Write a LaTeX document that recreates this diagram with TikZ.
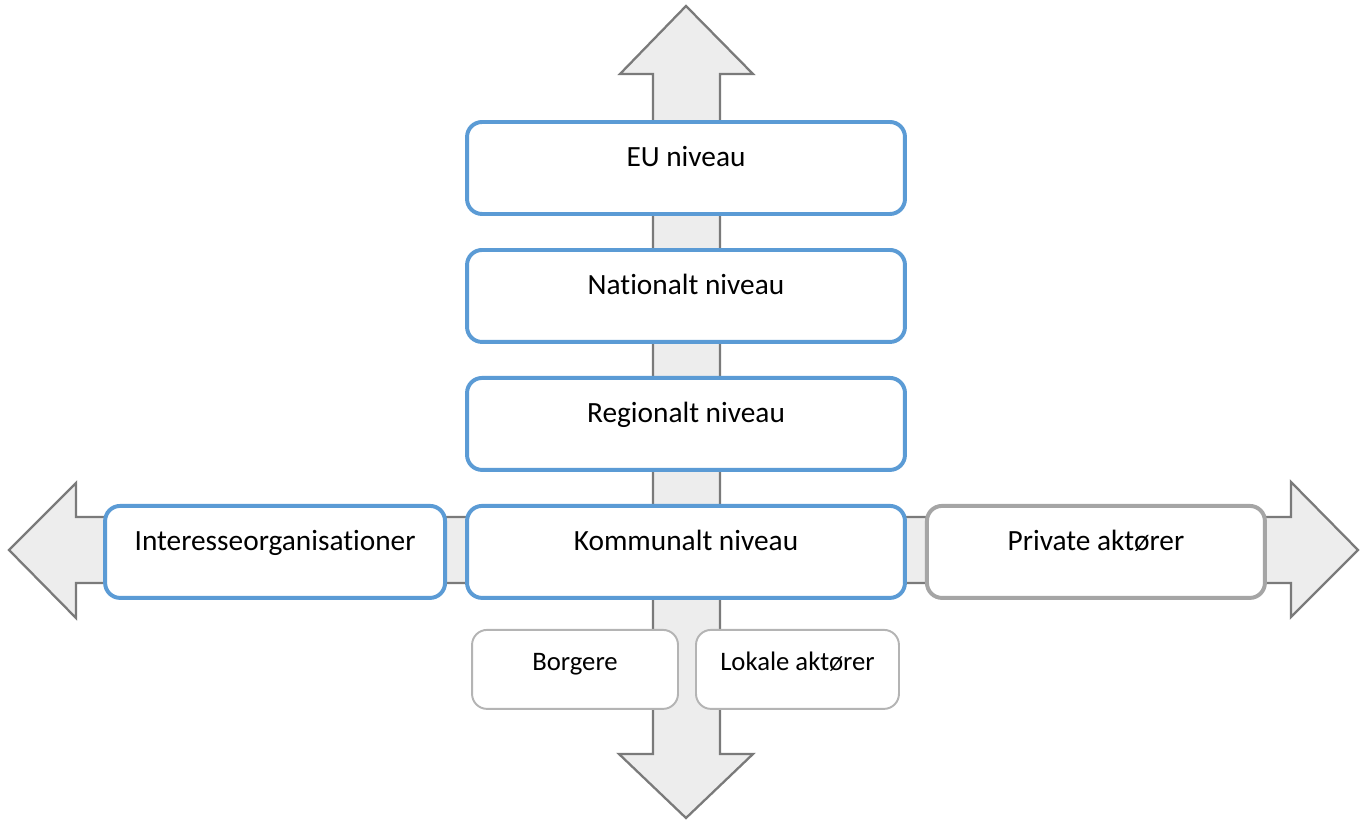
\documentclass[tikz,border=0pt]{standalone}
\usepackage{fontspec}
\setmainfont[Ligatures=NoCommon]{Carlito}
\usetikzlibrary{positioning}

\definecolor{boxblue}{HTML}{5B9BD5}
\definecolor{boxgrey}{HTML}{A5A5A5}
\definecolor{smallgrey}{HTML}{B4B4B4}
\definecolor{arrowfill}{HTML}{EDEDED}
\definecolor{arrowline}{HTML}{7A7A7A}

\begin{document}
\begin{tikzpicture}[
    x=0.02cm, y=-0.02cm,
    bigarrow/.style={draw=arrowline, fill=arrowfill, line width=1.3pt, line join=miter},
    level/.style={draw=boxblue, fill=white, line width=2.25pt, rounded corners=0.3cm, inner xsep=0pt, inner ysep=0pt, outer sep=0pt, minimum width=8.76cm, text height=0.9cm, text depth=0.94cm, font=\fontsize{16.7}{20}\selectfont},
    side/.style={level, minimum width=6.8cm},
    small/.style={draw=smallgrey, fill=white, line width=1.1pt, rounded corners=0.3cm, inner xsep=0pt, inner ysep=0pt, outer sep=0pt, text height=0.82cm, text depth=0.76cm, font=\fontsize{15.2}{18}\selectfont}
  ]
  \useasboundingbox (0,0) rectangle (1366,820);

  % arrows in the back
  \draw[bigarrow] (686,6) -- (753,74) -- (720,74) -- (720,754) -- (753,754) -- (686,818)
    -- (619,754) -- (653,754) -- (653,74) -- (620,74) -- cycle;
  \draw[bigarrow] (9,550) -- (76,483) -- (76,517) -- (1291,517) -- (1291,482) -- (1358,550)
    -- (1291,617) -- (1291,583) -- (76,583) -- (76,618) -- cycle;

  % levels
  \node[level] (eu) at (686,168) {EU niveau};
  \node[level, below=0.72cm of eu] (nat) {Nationalt niveau};
  \node[level, below=0.72cm of nat] (reg) {Regionalt niveau};
  \node[level, below=0.72cm of reg] (kom) {Kommunalt niveau};

  \node[side, left=0.44cm of kom] (org) {Interesseorganisationer};
  \node[side, draw=boxgrey, minimum width=6.76cm, right=0.44cm of kom] (priv) {Private aktører};

  \node[small, minimum width=4.12cm, below right=0.64cm and 0.1cm of kom.south west] (borg) {Borgere};
  \node[small, minimum width=4.06cm, below left=0.64cm and 0.12cm of kom.south east] (lok) {Lokale aktører};
\end{tikzpicture}
\end{document}
